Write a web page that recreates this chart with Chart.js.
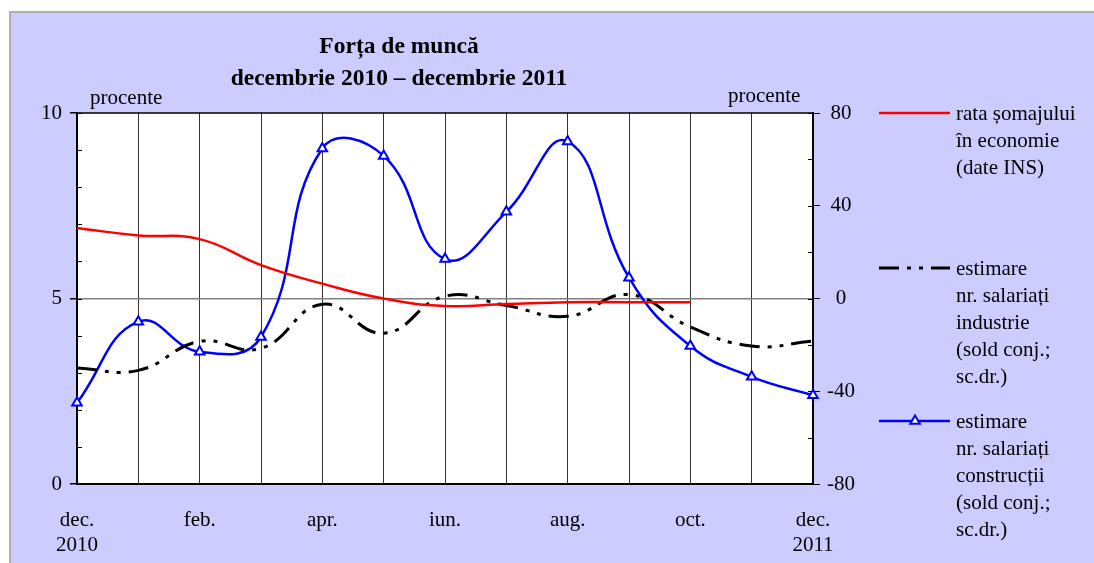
<!DOCTYPE html>
<html>
<head>
<meta charset="utf-8">
<script src="https://cdn.jsdelivr.net/npm/chart.js@4/dist/chart.umd.min.js"></script>
<style>
  html, body { margin: 0; padding: 0; background: #ffffff; }
  #wrap { position: relative; width: 1094px; height: 563px; }
  canvas { display: block; }
</style>
</head>
<body>
<div id="wrap"><canvas id="c" width="1094" height="563"></canvas></div>
<script>
// ---- data ----
const categories = ['dec. 2010','ian.','feb.','mar.','apr.','mai','iun.','iul.','aug.','sep.','oct.','nov.','dec. 2011'];
const tickLabels = [['dec.','2010'],'','feb.','','apr.','','iun.','','aug.','','oct.','',['dec.','2011']];
const rataSomaj = [6.9, 6.7, 6.6, 5.9, 5.4, 5.0, 4.8, 4.85, 4.9, 4.9, 4.9, null, null];
const industrie = [-30, -31, -18.5, -21.5, -2.5, -15, 1, -3, -7.7, 1.7, -12.3, -20.5, -18.4];
const constructii = [-45, -10, -23, -16.6, 64.7, 61.5, 17, 37.4, 67.7, 9, -20.5, -33.8, -41.7];
const leftTickLabels = [0, 5, 10];
const rightTickLabels = [-80, -40, 0, 40, 80];
const titleLines = ['Forța de muncă', 'decembrie 2010 – decembrie 2011'];
const legendTexts = [
  ['rata șomajului', 'în economie', '(date INS)'],
  ['estimare', 'nr. salariați', 'industrie', '(sold conj.;', 'sc.dr.)'],
  ['estimare', 'nr. salariați', 'construcții', '(sold conj.;', 'sc.dr.)']
];
const unitLabel = 'procente';

const FONT = '"Liberation Serif", "Times New Roman", serif';
const DASH = [20, 8, 4, 8, 4, 8];

const decorPlugin = {
  id: 'decor',
  beforeDraw(chart) {
    const ctx = chart.ctx, a = chart.chartArea;
    ctx.save();
    ctx.fillStyle = '#ffffff';
    ctx.fillRect(0, 0, chart.width, chart.height);
    ctx.fillStyle = '#ccccff';
    ctx.fillRect(10, 12, chart.width - 10, chart.height - 12);
    ctx.strokeStyle = '#b0b0b0';
    ctx.lineWidth = 2;
    ctx.beginPath();
    ctx.moveTo(10, chart.height); ctx.lineTo(10, 12); ctx.lineTo(chart.width, 12);
    ctx.stroke();
    ctx.fillStyle = '#ffffff';
    ctx.fillRect(a.left, a.top, a.right - a.left, a.bottom - a.top);
    ctx.restore();
  },
  afterDraw(chart) {
    const ctx = chart.ctx, a = chart.chartArea;
    ctx.save();
    // top border
    ctx.strokeStyle = '#000';
    ctx.lineWidth = 1.5;
    ctx.beginPath(); ctx.moveTo(a.left, a.top); ctx.lineTo(a.right, a.top); ctx.stroke();
    // inside minor ticks
    ctx.lineWidth = 1;
    const ys = chart.scales.y, y1 = chart.scales.y1;
    ys.ticks.forEach(t => {
      const p = Math.round(ys.getPixelForValue(t.value)) + 0.5;
      ctx.beginPath(); ctx.moveTo(a.left, p); ctx.lineTo(a.left + 5, p); ctx.stroke();
    });
    y1.ticks.forEach(t => {
      const p = Math.round(y1.getPixelForValue(t.value)) + 0.5;
      ctx.beginPath(); ctx.moveTo(a.right - 5, p); ctx.lineTo(a.right, p); ctx.stroke();
    });
    // titles
    ctx.fillStyle = '#000';
    ctx.textAlign = 'center';
    ctx.textBaseline = 'middle';
    ctx.font = 'bold 23.5px ' + FONT;
    ctx.fillText(titleLines[0], 399, 47);
    ctx.fillText(titleLines[1], 399, 79);
    ctx.font = '21px ' + FONT;
    ctx.textAlign = 'left';
    ctx.fillText(unitLabel, 90, 98);
    ctx.fillText(unitLabel, 728, 96);
    // legend
    const rows = [113, 268, 421];
    chart.data.datasets.forEach((ds, i) => {
      const y = rows[i];
      ctx.save();
      ctx.strokeStyle = ds.borderColor;
      ctx.lineWidth = ds.borderWidth;
      ctx.setLineDash(ds.borderDash || []);
      ctx.beginPath(); ctx.moveTo(879, y); ctx.lineTo(950, y); ctx.stroke();
      ctx.restore();
      if (ds.pointRadius > 0) {
        ctx.save();
        ctx.strokeStyle = ds.pointBorderColor;
        ctx.fillStyle = ds.pointBackgroundColor;
        ctx.lineWidth = ds.pointBorderWidth;
        const r = ds.pointRadius, cx = 915;
        ctx.beginPath();
        ctx.moveTo(cx, y - r);
        ctx.lineTo(cx + r * 0.87, y + r * 0.5);
        ctx.lineTo(cx - r * 0.87, y + r * 0.5);
        ctx.closePath(); ctx.fill(); ctx.stroke();
        ctx.restore();
      }
      ctx.fillStyle = '#000';
      ctx.font = '21px ' + FONT;
      ctx.textAlign = 'left';
      ctx.textBaseline = 'middle';
      legendTexts[i].forEach((t, k) => ctx.fillText(t, 956, y + 1 + k * 27));
    });
    ctx.restore();
  }
};

new Chart(document.getElementById('c'), {
  type: 'line',
  data: {
    labels: categories,
    datasets: [
      {
        label: legendTexts[0].join(' '),
        data: rataSomaj,
        yAxisID: 'y',
        borderColor: '#ff0000',
        borderWidth: 2.5,
        pointRadius: 0,
        tension: 0.45,
        spanGaps: false
      },
      {
        label: legendTexts[1].join(' '),
        data: industrie,
        yAxisID: 'y1',
        borderColor: '#000000',
        borderWidth: 3,
        borderDash: DASH,
        pointRadius: 0,
        tension: 0.45
      },
      {
        label: legendTexts[2].join(' '),
        data: constructii,
        yAxisID: 'y1',
        borderColor: '#0000ff',
        borderWidth: 2.5,
        pointStyle: 'triangle',
        pointRadius: 5.5,
        pointBorderWidth: 2,
        pointBorderColor: '#0000ff',
        pointBackgroundColor: '#ffffff',
        tension: 0.45
      }
    ]
  },
  options: {
    responsive: false,
    animation: false,
    devicePixelRatio: 1,
    layout: { padding: { left: 10, right: 231, top: 113, bottom: 4 } },
    plugins: { legend: { display: false }, title: { display: false }, tooltip: { enabled: false } },
    scales: {
      x: {
        type: 'category',
        offset: false,
        afterFit(s) { s.height = 75; },
        grid: { display: true, color: '#333333', lineWidth: 1, drawTicks: false },
        border: { display: true, color: '#000', width: 2 },
        ticks: {
          autoSkip: false, maxRotation: 0, minRotation: 0, padding: 24,
          color: '#000', font: { family: FONT, size: 21 }, lineHeight: 1.25,
          callback: (v, i) => tickLabels[i]
        }
      },
      y: {
        position: 'left',
        min: 0, max: 10,
        afterFit(s) { s.width = 67; },
        grid: {
          color: c => (c.tick && c.tick.value === 5) ? '#808080' : 'rgba(0,0,0,0)',
          lineWidth: 1.5,
          drawTicks: true, tickLength: 7,
          tickColor: c => leftTickLabels.includes(c.tick.value) ? '#000' : 'rgba(0,0,0,0)'
        },
        border: { display: true, color: '#000', width: 2 },
        ticks: {
          stepSize: 1, padding: 8, color: '#000', font: { family: FONT, size: 21 },
          callback: v => leftTickLabels.includes(v) ? String(v) : ''
        }
      },
      y1: {
        position: 'right',
        min: -80, max: 80,
        afterFit(s) { s.width = 50; },
        grid: {
          drawOnChartArea: false, drawTicks: true, tickLength: 7,
          tickColor: c => rightTickLabels.includes(c.tick.value) ? '#000' : 'rgba(0,0,0,0)'
        },
        border: { display: true, color: '#000', width: 2 },
        ticks: {
          stepSize: 20, padding: 7, crossAlign: 'center', color: '#000', font: { family: FONT, size: 21 },
          callback: v => rightTickLabels.includes(v) ? String(v) : ''
        }
      }
    }
  },
  plugins: [decorPlugin]
});
</script>
</body>
</html>
